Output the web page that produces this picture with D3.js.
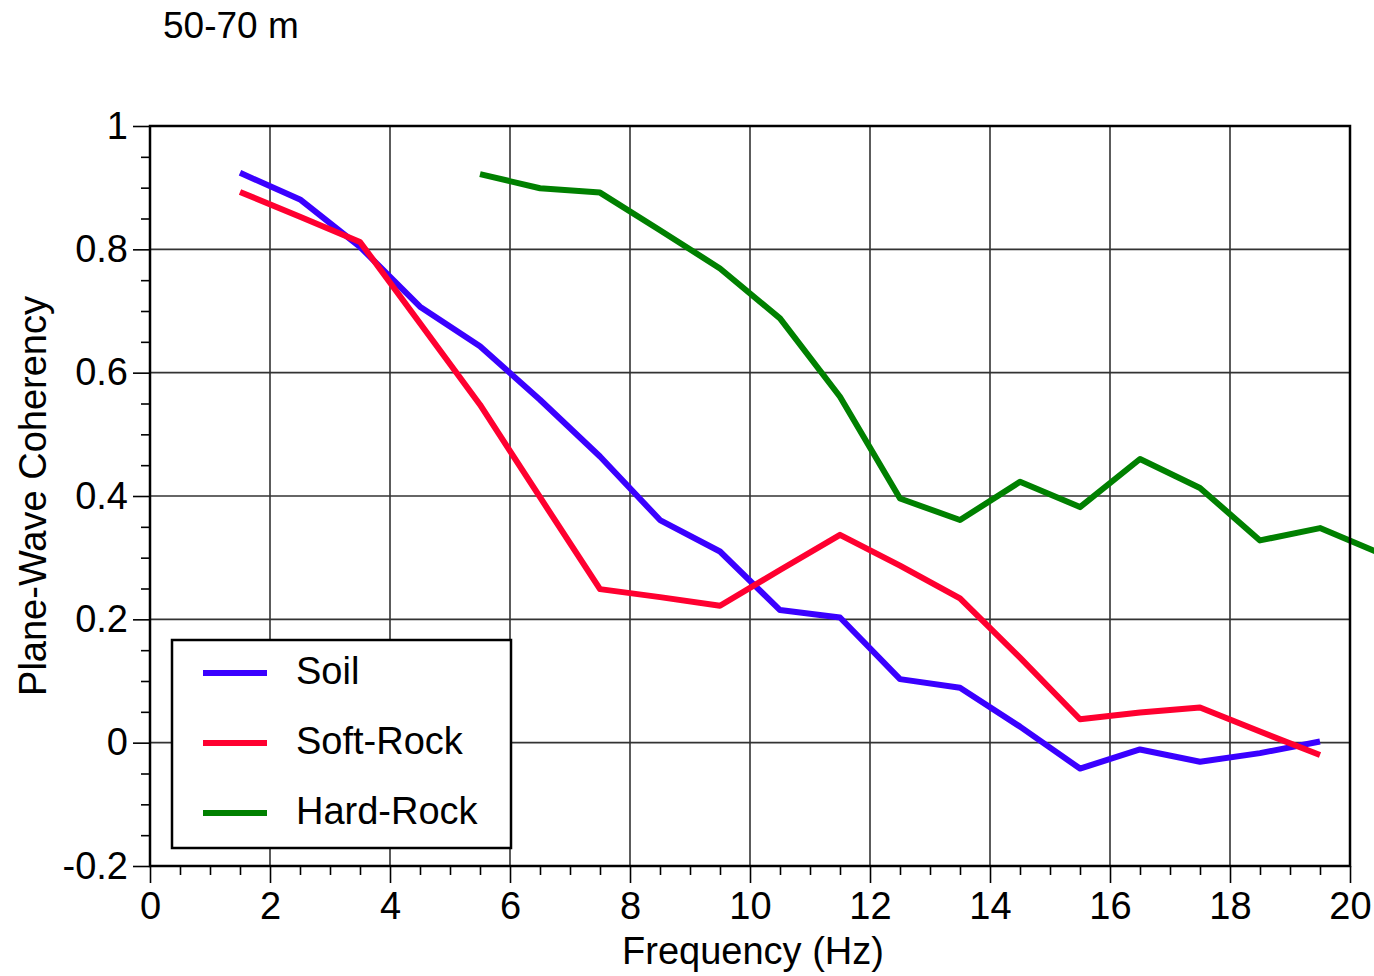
<!DOCTYPE html>
<html>
<head>
<meta charset="utf-8">
<script src="https://cdn.jsdelivr.net/npm/d3@7"></script>
<style>
  body { margin: 0; background: #fff; }
  svg text { font-family: "Liberation Sans", Arial, Helvetica, sans-serif; fill: #000; }
</style>
</head>
<body>
<div id="chart"></div>
<script>
// frequency bins (Hz)
const freq = [1.5, 2.5, 3.5, 4.5, 5.5, 6.5, 7.5, 8.5, 9.5, 10.5, 11.5, 12.5, 13.5, 14.5, 15.5, 16.5, 17.5, 18.5, 19.5, 20.5];

const soil = [0.924, 0.881, 0.804, 0.707, 0.643, 0.556, 0.464, 0.361, 0.310, 0.215, 0.203, 0.103, 0.089, 0.026, -0.042, -0.011, -0.031, -0.017, 0.002, null];
const softRock = [0.893, 0.853, 0.812, 0.680, 0.548, 0.398, 0.249, 0.236, 0.222, 0.280, 0.337, 0.287, 0.234, 0.138, 0.038, 0.049, 0.057, 0.018, -0.020, null];
const hardRock = [null, null, null, null, 0.922, 0.899, 0.892, 0.831, 0.769, 0.688, 0.561, 0.396, 0.361, 0.423, 0.382, 0.460, 0.413, 0.328, 0.348, 0.307];

const seriesNames = ['Soil', 'Soft-Rock', 'Hard-Rock'];
const seriesColors = ['#3a00ff', '#ff0030', '#008000'];

const xTicks = [0, 2, 4, 6, 8, 10, 12, 14, 16, 18, 20];
const yTicks = [-0.2, 0, 0.2, 0.4, 0.6, 0.8, 1];
const yTickLabels = ['-0.2', '0', '0.2', '0.4', '0.6', '0.8', '1'];

const W = 1374, H = 976;
const m = { top: 126, right: 24, bottom: 110, left: 150 };

const svg = d3.select('#chart').append('svg')
  .attr('width', W)
  .attr('height', H);

const x = d3.scaleLinear().domain([0, 20]).range([m.left, W - m.right]);
const y = d3.scaleLinear().domain([-0.2, 1]).range([H - m.bottom, m.top]);

// Grid lines
const grid = svg.append('g');
grid.selectAll('.vgrid')
  .data(xTicks.slice(1, -1))
  .enter().append('line')
  .attr('x1', d => x(d)).attr('x2', d => x(d))
  .attr('y1', y(1)).attr('y2', y(-0.2))
  .attr('stroke', '#333').attr('stroke-width', 1.6);
grid.selectAll('.hgrid')
  .data(yTicks.slice(1, -1))
  .enter().append('line')
  .attr('x1', x(0)).attr('x2', x(20))
  .attr('y1', d => y(d)).attr('y2', d => y(d))
  .attr('stroke', '#333').attr('stroke-width', 1.6);

// Axes
const xMinorVals = d3.range(1, 40, 1).filter(i => i % 4 !== 0).map(i => i * 0.5);
const yMinorVals = d3.range(-3, 20, 1).filter(i => i % 4 !== 0).map(i => i * 0.05);

const xAxis = d3.axisBottom(x).tickValues(xTicks).tickSize(17).tickPadding(9).tickFormat(d3.format('d'));
const xMinor = d3.axisBottom(x).tickValues(xMinorVals).tickSize(9).tickFormat('');
const yAxis = d3.axisLeft(y).tickValues(yTicks).tickSize(17).tickPadding(5).tickFormat((d, i) => yTickLabels[i]);
const yMinor = d3.axisLeft(y).tickValues(yMinorVals).tickSize(9).tickFormat('');

function styleAxis(g) {
  g.select('.domain').remove();
  g.selectAll('.tick line').attr('stroke', '#000').attr('stroke-width', 1.6);
  g.selectAll('.tick text').style('font-size', '38px').attr('fill', '#000');
}

svg.append('g').attr('transform', `translate(0,${y(-0.2)})`).call(xAxis).call(styleAxis);
svg.append('g').attr('transform', `translate(0,${y(-0.2)})`).call(xMinor).call(styleAxis);
svg.append('g').attr('transform', `translate(${x(0)},0)`).call(yAxis).call(styleAxis);
svg.append('g').attr('transform', `translate(${x(0)},0)`).call(yMinor).call(styleAxis);

// Series lines
const line = d3.line()
  .defined(d => d[1] !== null)
  .x(d => x(d[0]))
  .y(d => y(d[1]));

[soil, softRock, hardRock].forEach((vals, i) => {
  svg.append('path')
    .datum(freq.map((f, j) => [f, vals[j]]))
    .attr('d', line)
    .attr('fill', 'none')
    .attr('stroke', seriesColors[i])
    .attr('stroke-width', 6)
    .attr('stroke-linejoin', 'round');
});

// Plot frame
svg.append('rect')
  .attr('x', x(0)).attr('y', y(1))
  .attr('width', x(20) - x(0)).attr('height', y(-0.2) - y(1))
  .attr('fill', 'none').attr('stroke', '#000').attr('stroke-width', 2.5);

// Legend
const legend = svg.append('g').attr('transform', 'translate(172,640)');
legend.append('rect')
  .attr('width', 339).attr('height', 208)
  .attr('fill', '#fff').attr('stroke', '#000').attr('stroke-width', 2.5);
seriesNames.forEach((name, i) => {
  const ly = 33 + i * 70;
  legend.append('line')
    .attr('x1', 31).attr('x2', 95)
    .attr('y1', ly).attr('y2', ly)
    .attr('stroke', seriesColors[i]).attr('stroke-width', 6);
  legend.append('text')
    .attr('x', 124).attr('y', ly + 11)
    .style('font-size', '38px')
    .text(name);
});

// Titles
svg.append('text')
  .attr('x', 163).attr('y', 38)
  .style('font-size', '37px')
  .text('50-70 m');

svg.append('text')
  .attr('x', (x(0) + x(20)) / 2 + 3).attr('y', 964)
  .attr('text-anchor', 'middle')
  .style('font-size', '38px')
  .text('Frequency (Hz)');

svg.append('text')
  .attr('transform', `translate(46,${(y(1) + y(-0.2)) / 2}) rotate(-90)`)
  .attr('text-anchor', 'middle')
  .style('font-size', '38px')
  .text('Plane-Wave Coherency');
</script>
</body>
</html>
